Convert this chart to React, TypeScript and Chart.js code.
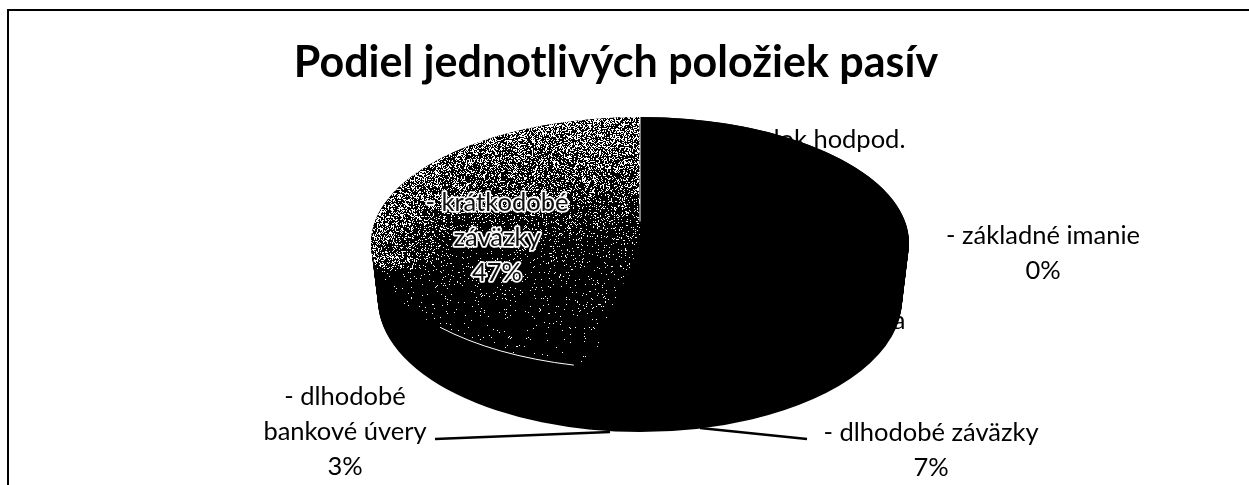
import React, { useEffect, useRef } from "react";
import { Chart, registerables } from "chart.js";

Chart.register(...registerables);

// ---- data ----
const chartTitle = "Podiel jednotlivých položiek pasív";
const categories = [
  "- výsledok hodpod.",
  "- základné imanie",
  "a",
  "- dlhodobé záväzky",
  "- dlhodobé bankové úvery",
  "- krátkodobé záväzky",
];
const shares = [0, 0, 43, 7, 3, 47];
const labelLines = [
  ["- výsledok hodpod.", "0%"],
  ["- základné imanie", "0%"],
  ["a"],
  ["- dlhodobé záväzky", "7%"],
  ["- dlhodobé", "bankové úvery", "3%"],
  ["- krátkodobé", "záväzky", "47%"],
];

// ---- layout ----
const W = 1249;
const H = 485;
const FONT = "Lato, Carlito, 'Open Sans', sans-serif";
const labelFont = `25.5px ${FONT}`;
const labelLeading = 35;
const labelAnchors = [
  { x: 799, y: 140 },
  { x: 1043, y: 236 },
  { x: 899, y: 321 },
  { x: 931, y: 433 },
  { x: 345, y: 397 },
  { x: 497, y: 203 },
];
const insideIndex = 5;
const leaders = [
  [435, 439, 610, 432],
  [700, 428, 807, 439],
];
const topFace = { x: 640, y: 243, rx: 269, ry: 126 };
const baseFace = { x: 640, y: 300, rx: 262, ry: 132 };

function speckle(): HTMLCanvasElement {
  const c = document.createElement("canvas");
  c.width = W;
  c.height = H;
  const g = c.getContext("2d")!;
  const img = g.createImageData(W, H);
  for (let y = 0; y < H; y++) {
    for (let x = 0; x < W; x++) {
      const u = (x - topFace.x) / topFace.rx;
      const v = (y - topFace.y) / topFace.ry;
      let d = v < 0 ? 0.06 - 0.42 * v : 0.06 - 0.07 * v;
      if (u < -0.7 && v < 0.2) d += (0.3 * (-u - 0.7)) / 0.3;
      d = Math.max(0.012, d);
      // integer hash gives the scanned-halftone speckle
      let h = Math.imul(x * 374761393 + y * 668265263, 1274126177);
      h = Math.imul(h ^ (h >>> 13), 1103515245);
      const a = ((h ^ (h >>> 16)) >>> 0) / 4294967296;
      const val = a < d ? 255 : 0;
      const i = (y * W + x) * 4;
      img.data[i] = val;
      img.data[i + 1] = val;
      img.data[i + 2] = val;
      img.data[i + 3] = 255;
    }
  }
  g.putImageData(img, 0, 0);
  return c;
}

function faceTransform(ctx: CanvasRenderingContext2D, arc: any, f: typeof topFace) {
  ctx.translate(f.x, f.y);
  ctx.scale(f.rx / arc.outerRadius, f.ry / arc.outerRadius);
  ctx.translate(-arc.x, -arc.y);
}

function drawLabel(ctx: CanvasRenderingContext2D, i: number, outlined: boolean) {
  ctx.save();
  ctx.font = labelFont;
  ctx.textAlign = "center";
  ctx.textBaseline = "middle";
  ctx.fillStyle = "#000";
  labelLines[i].forEach((line, n) => {
    const px = labelAnchors[i].x;
    const py = labelAnchors[i].y + n * labelLeading;
    if (outlined) {
      ctx.lineJoin = "round";
      ctx.strokeStyle = "#fff";
      ctx.lineWidth = 3.5;
      ctx.strokeText(line, px, py);
      ctx.fillStyle = "#111";
    }
    ctx.fillText(line, px, py);
  });
  ctx.restore();
}

const piePerspective = {
  id: "piePerspective",
  beforeDatasetsDraw(chart: any) {
    const ctx: CanvasRenderingContext2D = chart.ctx;
    // labels that sit behind the pie
    labelLines.forEach((_, i) => {
      if (i !== insideIndex) drawLabel(ctx, i, false);
    });
    ctx.save();
    ctx.strokeStyle = "#000";
    ctx.lineWidth = 2.4;
    leaders.forEach(([a, b, c, d]) => {
      ctx.beginPath();
      ctx.moveTo(a, b);
      ctx.lineTo(c, d);
      ctx.stroke();
    });
    ctx.restore();
    // extruded side of the pie, from the slices' own geometry
    const arcs = chart.getDatasetMeta(0).data;
    const steps = 60;
    ctx.save();
    ctx.fillStyle = "#000";
    for (let s = 0; s <= steps; s++) {
      const t = s / steps;
      const f = {
        x: baseFace.x + (topFace.x - baseFace.x) * t,
        y: baseFace.y + (topFace.y - baseFace.y) * t,
        rx: baseFace.rx + (topFace.rx - baseFace.rx) * t,
        ry: baseFace.ry + (topFace.ry - baseFace.ry) * t,
      };
      arcs.forEach((arc: any) => {
        if (arc.endAngle - arc.startAngle <= 0) return;
        ctx.save();
        faceTransform(ctx, arc, f);
        ctx.beginPath();
        ctx.moveTo(arc.x, arc.y);
        ctx.arc(arc.x, arc.y, arc.outerRadius, arc.startAngle, arc.endAngle);
        ctx.closePath();
        ctx.fill();
        ctx.restore();
      });
    }
    ctx.restore();
  },
  beforeDatasetDraw(chart: any) {
    const ctx: CanvasRenderingContext2D = chart.ctx;
    const arc = chart.getDatasetMeta(0).data[0];
    ctx.save();
    faceTransform(ctx, arc, topFace);
    const pattern = chart.data.datasets[0].backgroundColor[insideIndex];
    if (pattern && pattern.setTransform) pattern.setTransform(ctx.getTransform().inverse());
  },
  afterDatasetDraw(chart: any) {
    chart.ctx.restore();
  },
  afterDatasetsDraw(chart: any) {
    const ctx: CanvasRenderingContext2D = chart.ctx;
    const arc = chart.getDatasetMeta(0).data[insideIndex];
    // light edges on the grey slice
    ctx.save();
    faceTransform(ctx, arc, topFace);
    ctx.beginPath();
    ctx.arc(arc.x, arc.y, arc.outerRadius, arc.startAngle + 0.06, arc.startAngle + 0.65);
    const r = arc.outerRadius;
    ctx.moveTo(arc.x + Math.cos(arc.endAngle) * r, arc.y + Math.sin(arc.endAngle) * r);
    ctx.lineTo(arc.x + Math.cos(arc.endAngle) * r * 0.17, arc.y + Math.sin(arc.endAngle) * r * 0.17);
    ctx.restore();
    ctx.save();
    ctx.strokeStyle = "#fff";
    ctx.lineWidth = 1;
    ctx.stroke();
    ctx.restore();
    drawLabel(ctx, insideIndex, true);
    // scanned frame
    ctx.save();
    ctx.fillStyle = "#000";
    ctx.fillRect(7, 9, W - 7, 2);
    ctx.fillRect(7, 9, 2, H - 9);
    ctx.restore();
  },
};

export default function App() {
  const ref = useRef<HTMLCanvasElement>(null);
  useEffect(() => {
    document.body.style.margin = "0";
    document.body.style.background = "#fff";
    const ctx = ref.current!.getContext("2d")!;
    const pattern = ctx.createPattern(speckle(), "no-repeat")!;
    const colours: any[] = ["#000", "#000", "#000", "#000", "#000", pattern];
    const chart = new Chart(ref.current!, {
      type: "pie",
      data: {
        labels: categories,
        datasets: [{ data: shares, backgroundColor: colours, borderWidth: 0 }],
      },
      options: {
        responsive: false,
        animation: false,
        layout: { padding: { right: 17 } },
        plugins: {
          legend: { display: false },
          tooltip: { enabled: false },
          title: {
            display: true,
            text: chartTitle,
            color: "#000",
            font: { family: FONT, size: 43, weight: "bold" },
            padding: { top: 37, bottom: 10 },
          },
        },
      },
      plugins: [piePerspective],
    } as any);
    return () => chart.destroy();
  }, []);
  return (
    <canvas
      ref={ref}
      width={W}
      height={H}
      style={{ position: "absolute", left: 0, top: 0, display: "block", width: W, height: H }}
    />
  );
}
